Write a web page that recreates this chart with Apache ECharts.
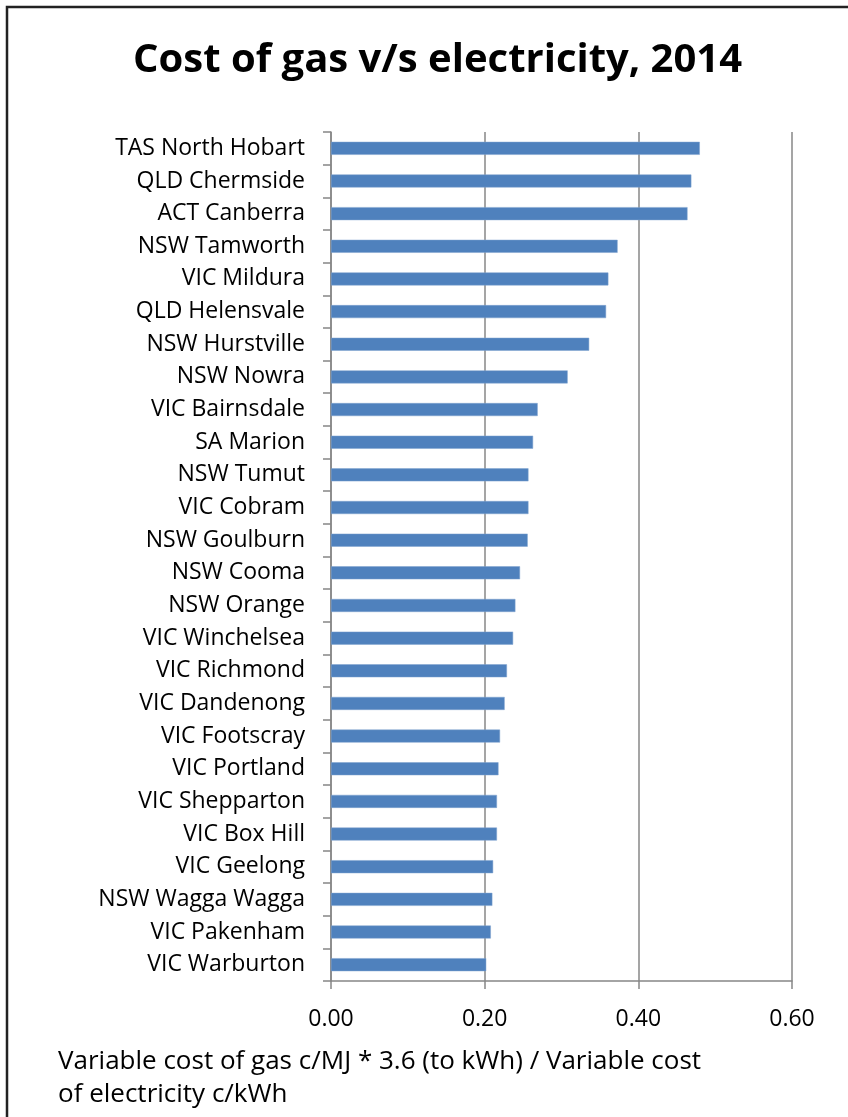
<!DOCTYPE html>
<html>
<head>
<meta charset="utf-8">
<script src="https://cdn.jsdelivr.net/npm/echarts@6/dist/echarts.min.js"></script>
<style>
  html, body { margin: 0; padding: 0; background: #fff; }
  #chart { width: 848px; height: 1117px; }
</style>
</head>
<body>
<div id="chart"></div>
<script>
const places = [
  'TAS North Hobart', 'QLD Chermside', 'ACT Canberra', 'NSW Tamworth', 'VIC Mildura',
  'QLD Helensvale', 'NSW Hurstville', 'NSW Nowra', 'VIC Bairnsdale', 'SA Marion',
  'NSW Tumut', 'VIC Cobram', 'NSW Goulburn', 'NSW Cooma', 'NSW Orange',
  'VIC Winchelsea', 'VIC Richmond', 'VIC Dandenong', 'VIC Footscray', 'VIC Portland',
  'VIC Shepparton', 'VIC Box Hill', 'VIC Geelong', 'NSW Wagga Wagga', 'VIC Pakenham',
  'VIC Warburton'
];
const ratio = [
  0.480, 0.469, 0.464, 0.373, 0.361,
  0.358, 0.336, 0.308, 0.269, 0.263,
  0.257, 0.257, 0.256, 0.246, 0.240,
  0.237, 0.229, 0.226, 0.220, 0.218,
  0.216, 0.216, 0.211, 0.210, 0.208,
  0.202
];
const xTicks = [0, 0.2, 0.4, 0.6];

const font = '"Open Sans", Lato, sans-serif';
const gridGray = '#878787';

const chart = echarts.init(document.getElementById('chart'));
chart.setOption({
  animation: false,
  title: [{
    text: 'Cost of gas v/s electricity, 2014',
    left: 128,
    top: 36,
    textStyle: { fontFamily: font, fontWeight: 'bold', fontSize: 40, color: '#000' }
  }, {
    text: 'Variable cost of gas c/MJ * 3.6 (to kWh) / Variable cost\nof electricity c/kWh',
    left: 53,
    top: 1040,
    textStyle: { fontFamily: font, fontWeight: 'normal', fontSize: 26, color: '#000', lineHeight: 33 }
  }],
  graphic: [{
    type: 'rect',
    shape: { x: 7, y: 7, width: 1000, height: 1300 },
    style: { fill: 'none', stroke: '#222', lineWidth: 2.5 },
    silent: true
  }],
  grid: { left: 331, right: 56, top: 132, bottom: 136, containLabel: false },
  xAxis: {
    type: 'value',
    min: xTicks[0],
    max: xTicks[xTicks.length - 1],
    interval: 0.2,
    axisLine: { show: true, lineStyle: { color: gridGray, width: 1.5 } },
    axisTick: { show: true, length: 8, lineStyle: { color: gridGray, width: 1.5 } },
    splitLine: { show: true, lineStyle: { color: gridGray, width: 1.5 } },
    axisLabel: {
      margin: 27,
      fontFamily: font, fontSize: 23, color: '#000',
      formatter: v => v.toFixed(2)
    }
  },
  yAxis: {
    type: 'category',
    data: places,
    inverse: true,
    axisLine: { show: true, lineStyle: { color: gridGray, width: 1.5 } },
    axisTick: { show: true, length: 8, lineStyle: { color: gridGray, width: 1.5 } },
    axisLabel: { margin: 26, fontFamily: font, fontSize: 23, color: '#000', padding: [3, 0, 0, 0] }
  },
  series: [{
    type: 'bar',
    data: ratio,
    barWidth: 13,
    itemStyle: { color: '#4F81BD', borderColor: '#7FA2CF', borderWidth: 0.5 }
  }]
});
</script>
</body>
</html>
